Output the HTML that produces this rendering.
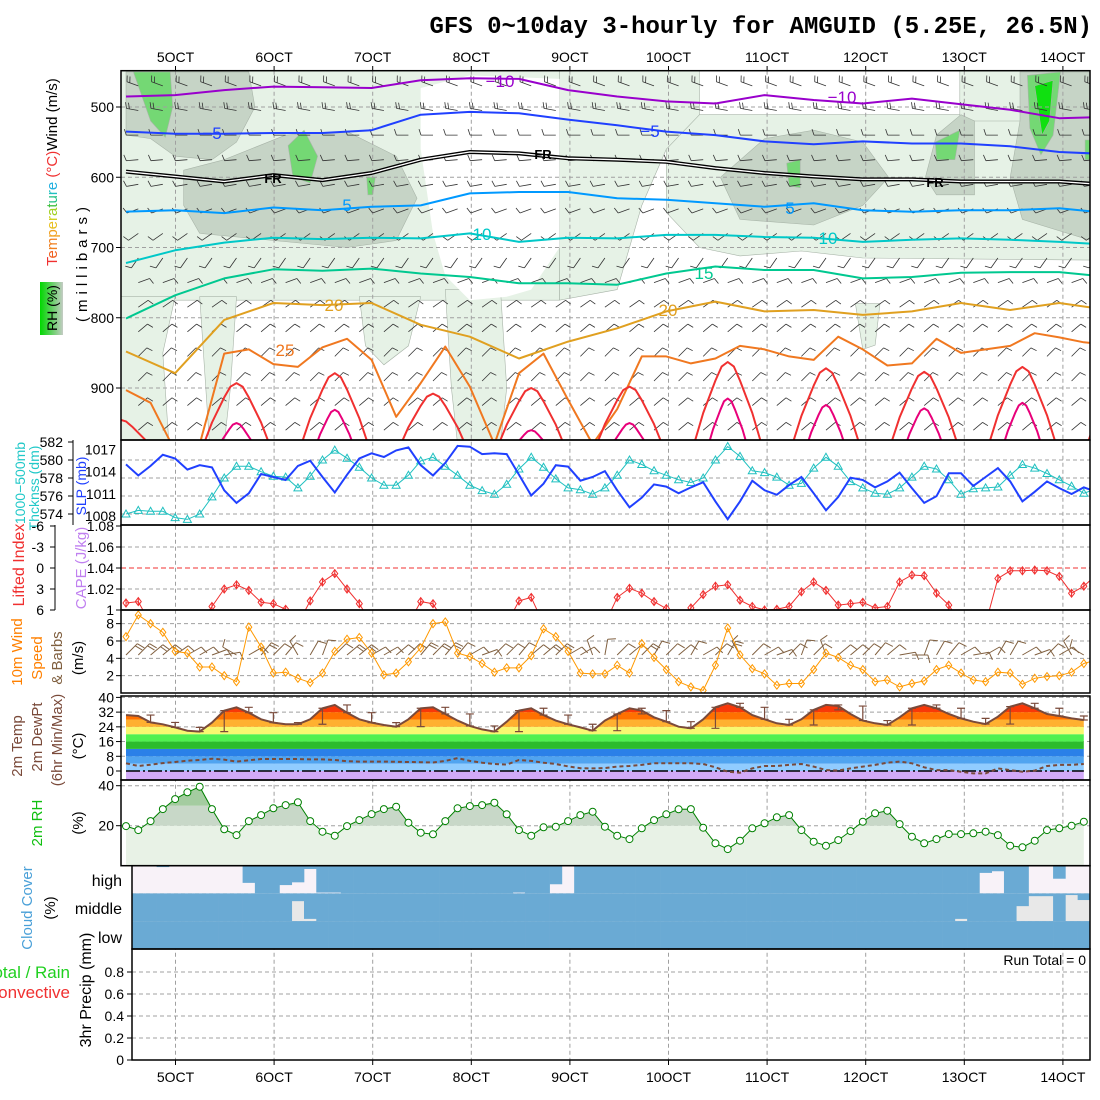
<!DOCTYPE html>
<html><head><meta charset="utf-8">
<style>
body{margin:0;background:#fff}
svg{display:block;font-family:"Liberation Sans",sans-serif}
</style></head>
<body>
<svg id="c" width="1100" height="1100" viewBox="0 0 1100 1100">
<defs>
<clipPath id="cp1"><rect x="121" y="70.7" width="969" height="369.3"/></clipPath>
<clipPath id="cp2"><rect x="121" y="440" width="969" height="85"/></clipPath>
<clipPath id="cp3"><rect x="121" y="525" width="969" height="85"/></clipPath>
<clipPath id="cp4"><rect x="121" y="610" width="969" height="83"/></clipPath>
<clipPath id="cp5"><rect x="121" y="696" width="969" height="84"/></clipPath>
<clipPath id="cp6"><rect x="121" y="780" width="969" height="85.7"/></clipPath>
<clipPath id="cp7"><rect x="132" y="865.7" width="958" height="83.3"/></clipPath>
<linearGradient id="rhgrad" x1="0" x2="1" y1="0" y2="0"><stop offset="0" stop-color="#00d800"/><stop offset="0.5" stop-color="#60d060"/><stop offset="1" stop-color="#c4ccc4"/></linearGradient>
</defs>
<rect width="1100" height="1100" fill="#fff"/>
<text x="1092" y="33" text-anchor="end" font-family="Liberation Mono, monospace" font-weight="bold" font-size="24">GFS 0~10day 3-hourly for AMGUID (5.25E, 26.5N)</text>

<g id="L1"></g>
<g id="L2"></g>
<g id="L3"></g>
<g id="L4"></g>

<g font-size="15">
<text transform="translate(57,266) rotate(-90)"><tspan fill="#f03030">T</tspan><tspan fill="#f06020">e</tspan><tspan fill="#f08020">m</tspan><tspan fill="#f0a020">p</tspan><tspan fill="#e8c020">e</tspan><tspan fill="#d0d020">r</tspan><tspan fill="#a0d020">a</tspan><tspan fill="#40c040">t</tspan><tspan fill="#20c080">u</tspan><tspan fill="#20c0c0">r</tspan><tspan fill="#20b0e0">e</tspan> <tspan fill="#f03030">(°C)</tspan><tspan fill="#000">Wind (m/s)</tspan></text>
<rect x="40" y="282" width="23" height="53" fill="url(#rhgrad)"/>
<text transform="translate(57,308) rotate(-90)" text-anchor="middle" font-size="14">RH (%)</text>
<text transform="translate(87,262) rotate(-90)" text-anchor="middle" letter-spacing="5">(millibars)</text>

<text transform="translate(25,483) rotate(-90)" text-anchor="middle" fill="#20c8c8" font-size="14">1000−500mb</text>
<text transform="translate(39,488) rotate(-90)" text-anchor="middle" fill="#20c8c8" font-size="14">Thcknss (dm)</text>
<text transform="translate(86,486) rotate(-90)" text-anchor="middle" fill="#2040ff" font-size="14">SLP (mb)</text>

<text transform="translate(24,565) rotate(-90)" text-anchor="middle" fill="#f03030" font-size="16">Lifted Index</text>
<text transform="translate(86,568) rotate(-90)" text-anchor="middle" fill="#c080f0" font-size="15">CAPE (J/kg)</text>

<text transform="translate(22,652) rotate(-90)" text-anchor="middle" fill="#ff8000" font-size="15">10m Wind</text>
<text transform="translate(42,658) rotate(-90)" text-anchor="middle" fill="#ff8000" font-size="15">Speed</text>
<text transform="translate(62,658) rotate(-90)" text-anchor="middle" fill="#806040" font-size="15">&amp; Barbs</text>
<text transform="translate(83,658) rotate(-90)" text-anchor="middle" fill="#000" font-size="15">(m/s)</text>

<text transform="translate(22,746) rotate(-90)" text-anchor="middle" fill="#7a4a3a" font-size="15">2m Temp</text>
<text transform="translate(42,737) rotate(-90)" text-anchor="middle" fill="#7a4a3a" font-size="15">2m DewPt</text>
<text transform="translate(62,740) rotate(-90)" text-anchor="middle" fill="#7a4a3a" font-size="15">(6hr Min/Max)</text>
<text transform="translate(83,746) rotate(-90)" text-anchor="middle" fill="#000" font-size="15">(°C)</text>

<text transform="translate(42,823) rotate(-90)" text-anchor="middle" fill="#10c010" font-size="15">2m RH</text>
<text transform="translate(83,823) rotate(-90)" text-anchor="middle" fill="#000" font-size="15">(%)</text>

<text transform="translate(32,908) rotate(-90)" text-anchor="middle" fill="#4aa0d8" font-size="15">Cloud Cover</text>
<text transform="translate(55,908) rotate(-90)" text-anchor="middle" fill="#000" font-size="15">(%)</text>
<text x="122" y="886" text-anchor="end" font-size="16">high</text>
<text x="122" y="914" text-anchor="end" font-size="16">middle</text>
<text x="122" y="943" text-anchor="end" font-size="16">low</text>

<text x="70" y="978" text-anchor="end" fill="#20d020" font-size="17">Total / Rain</text>
<text x="70" y="998" text-anchor="end" fill="#f03030" font-size="17">Convective</text>
<text transform="translate(91,990) rotate(-90)" text-anchor="middle" fill="#000" font-size="16">3hr Precip (mm)</text>
<text x="1086" y="965" text-anchor="end" font-size="14">Run Total = 0</text>
</g>
<g id="L5" font-size="14"></g>

<script>
// ---------- data ----------
const days = ['5OCT','6OCT','7OCT','8OCT','9OCT','10OCT','11OCT','12OCT','13OCT','14OCT'];
const pLevels = [500,600,700,800,900];
const sampleStep = 4;
const cm10 = [485,483,476,471,472,473,462,459,460,476,485,492,495,483,490,495,488,496,504,516,514];
const cm5  = [535,538,538,537,537,533,511,507,509,518,526,535,540,549,553,549,552,552,556,564,567];
const cFR  = [592,599,606,597,604,594,575,564,566,573,575,578,587,594,599,603,603,606,606,606,611];
const c5   = [649,647,651,643,647,642,640,623,621,621,630,632,637,642,637,647,649,647,647,644,651];
const c10  = [722,704,693,686,688,686,687,680,692,686,687,682,682,685,686,692,689,687,689,692,696];
const c15  = [801,768,744,731,733,730,737,742,751,751,753,737,727,732,732,744,742,736,735,735,742];
const c20  = [848,879,803,779,782,779,810,827,858,834,815,791,777,791,789,796,791,779,789,779,789];
const c25  = [903,921,990,980,851,845,866,870,842,830,860,941,893,841,898,980,879,851,917,980,930,855,855,865,858,840,845,855,860,827,845,868,865,830,850,845,840,822,828,835,838];
const c25Step = 2;
const arch30Centers = [-0.5,9,17,25,33,41,49,57,65,73,81];
const arch30Peaks = [945,893,879,908,900,898,863,872,877,870,880];
const arch35Centers = [9,17,33,41,49,57,65,73];
const arch35Peaks = [950,931,960,950,915,924,929,921];
const barbLevels = [470,505,540,575,610,645,680,715,750,785,820,855,890,925,960];
const barbLevelDir = [290,280,270,265,260,250,235,215,70,55,50,45,45,50,50];
const barbLevelFeathers = [2,2,1,1,1,1,1,1,1,1,1,1,1,1,1];

const slp = [1014.7,1013.2,1014.5,1016.0,1015.5,1014.0,1014.6,1014.3,1011.2,1009.5,1010.8,1013.4,1013.0,1012.6,1014.5,1015.2,1013.0,1010.9,1013.3,1015.5,1016.2,1015.7,1016.6,1017.0,1014.6,1013.2,1014.9,1017.2,1017.1,1016.1,1016.2,1016.1,1013.3,1010.5,1012.1,1014.6,1014.4,1012.5,1013.0,1013.8,1011.2,1008.9,1010.2,1012.0,1011.7,1010.8,1011.6,1012.3,1009.7,1007.3,1009.7,1012.5,1011.2,1010.6,1011.9,1013.0,1010.8,1008.5,1010.3,1012.9,1012.6,1011.6,1012.4,1013.6,1011.5,1009.5,1010.4,1013.5,1013.5,1011.8,1013.0,1014.2,1012.4,1009.7,1011.0,1012.4,1011.5,1010.7,1011.6,1011.0];
const thickness = [574.0,574.4,574.3,574.3,573.6,573.4,574.0,575.9,578.0,579.3,579.3,578.7,578.2,578.1,576.9,578.2,580.0,581.1,580.2,579.2,578.0,577.2,577.2,578.3,579.9,580.3,579.3,578.3,577.2,576.6,576.2,577.3,579.0,580.3,579.2,577.9,576.9,576.7,576.2,576.9,578.3,580.0,579.5,578.8,578.3,577.8,577.5,578.0,580.0,581.5,580.4,578.8,578.6,578.1,577.2,577.4,579.1,580.3,579.3,577.6,576.9,576.3,576.2,576.9,578.1,579.3,579.0,577.8,576.2,576.8,576.9,577.0,578.3,579.5,579.1,578.5,577.8,577.1,576.3,576.8];
const liftedIndex = [5.0,4.8,8,8,8,8,8,5.5,3.0,2.4,3.2,4.9,5.1,5.9,8,4.7,2.0,0.8,3.0,5.1,8,8,8,8,4.8,5.1,8,8,8,8,8,8,4.7,4.2,8,8,8,8,8,8,4.2,2.9,3.6,4.8,5.8,8,5.7,3.8,2.6,2.4,4.6,5.5,6.0,5.9,5.5,3.4,2.0,3.2,5.3,5.1,4.9,5.7,5.5,2.0,1.0,1.1,3.6,5.3,8,8,8,1.5,0.4,0.4,0.3,0.4,1.2,3.6,2.6,1.0];
const windSpeed = [6.5,9.0,8.0,7.0,4.8,4.6,3.0,3.0,2.0,1.3,7.6,5.3,2.3,2.4,1.7,1.2,2.3,4.8,6.2,6.4,4.6,2.1,2.3,3.6,5.2,8.0,8.2,4.6,4.2,3.4,2.4,2.9,2.9,4.3,7.4,6.5,4.8,2.3,2.2,2.2,3.2,2.3,5.7,4.1,2.7,1.3,0.7,0.3,3.2,7.5,4.4,2.8,2.2,0.9,1.1,1.1,2.7,4.6,4.1,3.2,2.7,1.3,1.5,0.7,1.1,1.4,2.7,3.2,2.3,1.5,1.3,2.4,2.3,1.0,1.7,1.9,2.0,2.4,3.4,3.8];
const windDir = [45,45,50,50,55,60,60,70,80,300,60,40,45,40,330,30,20,45,50,50,60,60,50,45,40,45,40,40,60,70,45,45,40,50,50,45,60,60,340,10,45,50,45,30,45,50,30,60,45,30,330,45,60,70,45,20,45,340,50,50,45,40,50,80,90,20,30,40,60,80,60,30,30,60,70,45,60,330,300,45];
const temp2m = [30.4,29.9,26.4,25.4,23.7,21.9,21.4,26.3,32.8,34.6,31.7,28.1,26.3,25.4,25.4,28.1,34.1,35.9,31.7,28.1,26.3,25.0,24.1,28.1,34.1,34.6,31.0,27.4,24.5,22.6,21.4,26.8,32.8,34.1,30.4,27.4,25.4,23.7,21.9,27.4,31.0,34.1,32.8,29.2,26.8,24.1,23.2,28.1,34.6,36.8,34.6,30.4,28.1,25.9,25.0,28.1,33.2,35.9,35.3,31.0,27.4,25.9,25.0,29.2,34.1,35.9,34.1,31.0,28.6,26.8,25.5,29.5,35.0,36.8,34.1,31.0,29.9,28.6,27.7];
const dew2m = [4.2,2.7,3.4,4.3,4.9,5.6,6.0,6.7,6.2,5.1,5.8,6.5,6.5,6.5,6.5,6.3,6.3,6.0,5.3,5.1,5.1,5.1,5.0,4.9,4.8,4.6,5.5,7.0,5.5,4.5,3.8,3.5,6.0,5.5,4.5,3.8,2.5,1.5,1.4,1.6,2.4,2.7,3.3,4.2,4.2,4.2,4.2,3.8,2.0,-0.4,-0.9,1.4,2.7,2.7,3.3,3.8,2.4,0.5,0.2,1.4,2.4,3.3,4.5,5.1,4.2,2.0,0.5,0.5,-0.4,-1.3,-1.3,1.4,0.5,-0.4,0.2,2.7,3.3,3.3,3.8];
const tempBandEdges = [-40,0,4,8,12,16,20,24,28,32,36,60];
const tempBandColors = ['#d2aaf8','#90ccff','#50a4f0','#2a80e8','#2cbc2c','#50f050','#f8f870','#ffb030','#ff7000','#f83808','#d81800'];
const rh2m = [19.8,17.8,22.3,28.3,33.3,36.7,39.5,28.3,18.2,15.3,22.3,25.3,28.7,30.3,31.7,22.3,17.0,15.0,19.8,22.8,25.8,28.3,29.5,21.5,16.5,15.7,22.3,28.7,29.8,30.3,31.5,25.7,17.8,15.0,19.2,19.5,22.3,25.3,27.0,19.5,15.0,13.3,18.7,22.8,25.7,28.2,28.3,19.0,11.2,8.3,12.5,18.7,21.2,24.2,25.3,17.8,12.0,10.0,12.8,17.3,22.0,26.2,27.5,20.8,14.5,11.2,13.3,15.8,15.8,16.2,17.0,15.3,10.0,9.2,12.5,17.8,18.7,20.0,22.0];
const rhBandEdges = [0,20,30,100];
const rhBandColors = ['#e8f2e6','#c8d8c8','#a4cca0'];
const cloudHigh = [0,0,0,5,0,0,0,0,0,0,62,100,100,70,60,12,97,97,100,100,100,100,100,100,100,100,100,100,100,100,100,100,97,100,100,67,0,100,100,100,100,100,100,100,100,100,100,100,100,100,100,100,100,100,100,100,100,100,100,100,100,100,100,100,100,100,100,100,100,100,26,20,100,100,0,0,47,0,0,0];
const cloudMid = [100,100,100,100,100,100,100,100,100,100,100,100,100,100,28,92,100,100,100,100,100,100,100,100,100,100,100,100,100,100,100,100,100,100,100,100,100,100,100,100,100,100,100,100,100,100,100,100,100,100,100,100,100,100,100,100,100,100,100,100,100,100,100,100,100,100,100,100,92,100,100,100,100,46,10,10,100,6,24,24];
const cloudLow = new Array(80).fill(100);
const precipTicks = [0,0.2,0.4,0.6,0.8];
const thkTicks = [574,576,578,580,582];
const slpTicks = [1008,1011,1014,1017];
const liTicks = [-6,-3,0,3,6];
const capeTicks = ['1.08','1.06','1.04','1.02','1'];
const spdTicks = [2,4,6,8];
const tempTicks = [0,8,16,24,32,40];
const rhTicks = [20,40];
const rhPale = [
 [[-1,445],[35.3,445],[35.3,775],[-1,775]],
 [[-1,770],[4,770],[3,850],[3.5,980],[-1,980]],
 [[6,770],[9,770],[8.5,900],[8,980],[6.8,980],[6.5,900]],
 [[19,770],[24,770],[23,840],[21,867],[19.5,840]],
 [[26,760],[30.5,760],[31,900],[30.5,980],[27,980],[26.5,900]],
 [[35.3,445],[46.7,445],[46.7,520],[44,560],[42,640],[41,700],[40,760],[35.3,775]],
 [[44,560],[46.7,511],[78.6,511],[78.6,718],[60,715],[55,705],[50,712],[46.7,700],[44,650]],
 [[67.9,445],[78.6,445],[78.6,520],[67.9,520]],
 [[59.4,780],[61.4,780],[61,839],[60,845]]
];
const rhWhite = [[[24,473],[28,455],[35.3,460],[35.3,700],[33,760],[31,770],[28,775],[26,740],[25,680],[24,560]]];
const rhGray = [
 [[0,450],[10,450],[10.5,500],[9,550],[7,575],[4,570],[2,545],[0,540]],
 [[4.7,590],[8,575],[13,540],[18,535],[22,570],[23.7,630],[22,690],[18,700],[12,690],[6,680],[4.7,640]],
 [[48.4,600],[52,545],[56,533],[60,550],[62.1,600],[60,640],[56,668],[50,660]],
 [[65.1,600],[66,540],[68,511],[69.1,520],[69.1,625],[66,625]],
 [[72.8,450],[78.6,450],[78.6,690],[73,660],[72,600],[72.8,520]]
];
const rhGreen = [
 [[0.6,450],[3.6,450],[3.8,500],[3.2,543],[2,520]],
 [[13.2,555],[14.5,533],[15.6,570],[15,608],[13.6,600]],
 [[19.6,600],[20.3,600],[20.1,625],[19.7,625]],
 [[53.8,580],[54.9,575],[54.9,615],[54,612]],
 [[65.9,550],[67.9,533],[67.5,575],[66,575]],
 [[73.4,455],[76.1,450],[75.5,540],[74.5,568],[73.6,530]],
 [[78.1,547],[78.6,547],[78.6,575],[78.1,575]]
];
const rhBright = [[[74,470],[75.5,462],[75.2,520],[74.6,540]]];

// ---------- axes ----------
const svg = document.getElementById('c');
const NS = 'http://www.w3.org/2000/svg';
const L1 = document.getElementById('L1'), L2 = document.getElementById('L2'), L3 = document.getElementById('L3'), L4 = document.getElementById('L4'), L5 = document.getElementById('L5');
const X = i => 126 + 12.28 * i;
const dayX = d => 175.5 + 98.6 * d;
const yP = p => 107 + (p - 500) * 0.7025;
const yThk = v => 514 - (v - 574) * 9;
const ySlp = v => 514 - (v - 1008) * 7.4;
const yLI = v => 568 + v * 7;
const ySpd = v => 693 - v * 8.67;
const yT = v => 771 - v * 1.84;
const yRH = v => 865.7 - v * 2;
const yPr = v => 1060 - v * 110;
function mk(tag, attrs, parent) {
  const e = document.createElementNS(NS, tag);
  for (const k in attrs) e.setAttribute(k, attrs[k]);
  parent.appendChild(e);
  return e;
}
function pd(pts) { return pts.map((p, k) => (k ? 'L' : 'M') + p[0].toFixed(1) + ',' + p[1].toFixed(1)).join(''); }

// ---------- RH shading ----------
const gShade = mk('g', {'clip-path': 'url(#cp1)'}, L1);


function blobs(list, fill, name) {
  list.forEach(poly => {
    const e = mk('path', {d: pd(poly.map(q => [X(q[0]), yP(q[1])])) + 'Z', fill: fill, stroke: fill === '#ffffff' ? 'none' : '#a8b4a8', 'stroke-width': 0.6}, gShade);
    
    
  });
}
blobs(rhPale, '#e6f2e6', 'rh-region-moist');
blobs(rhWhite, '#ffffff', 'rh-region-dry');
blobs(rhGray, '#c6d4c6', 'rh-region-humid');
blobs(rhGreen, '#74d874', 'rh-region-wet');
blobs(rhBright, '#10e010', 'rh-region-saturated');

// ---------- grid ----------
function gl(x1, y1, x2, y2, name, color, dash) {
  const e = mk('line', {x1: x1, y1: y1, x2: x2, y2: y2, stroke: color || '#a0a0a0', 'stroke-width': 1, 'stroke-dasharray': dash || '4,3'}, L2);
  
  
  return e;
}
days.forEach((d, k) => {
  const x = dayX(k);
  gl(x, 70.7, x, 1060, 'day-gridline');
  const t1 = mk('text', {x: x, y: 62, 'text-anchor': 'middle'}, L5);
  t1.textContent = d;
  
  
  const t2 = mk('text', {x: x, y: 1082, 'text-anchor': 'middle'}, L5);
  t2.textContent = d;
  
  
  const tk = mk('line', {x1: x, y1: 66, x2: x, y2: 70.7, stroke: '#000'}, L4);
  
  
  const tk2 = mk('line', {x1: x, y1: 1060, x2: x, y2: 1065, stroke: '#000'}, L4);
  
  
});
function ylab(txt, x, y, name, anchor) {
  const t = mk('text', {x: x, y: y + 5, 'text-anchor': anchor || 'end'}, L5);
  t.textContent = txt;
  
  
}
function ytick(x, y, name) {
  const e = mk('line', {x1: x - 5, y1: y, x2: x, y2: y, stroke: '#000'}, L4);
  
  
}
pLevels.forEach(p => { gl(121, yP(p), 1090, yP(p), 'pressure-gridline'); ylab(String(p), 114, yP(p), 'pressure-tick-label'); ytick(121, yP(p), 'pressure-tick'); });
thkTicks.forEach(v => { if (v < 582) gl(121, yThk(v), 1090, yThk(v), 'thickness-gridline'); ylab(String(v), 63, yThk(v), 'thickness-tick-label'); ytick(73, yThk(v), 'thickness-tick'); });
slpTicks.forEach(v => { ylab(String(v), 116, ySlp(v) + 2, 'slp-tick-label'); });
liTicks.forEach((v, k) => {
  if (v === -3 || v === 3) gl(121, yLI(v), 1090, yLI(v), 'li-gridline');
  if (v === 0) gl(121, yLI(v), 1090, yLI(v), 'li-zero-line', '#f03030', '5,3');
  ylab(String(v), 44, yLI(v), 'li-tick-label'); ytick(55, yLI(v), 'li-tick');
  ylab(capeTicks[k], 114, yLI(v), 'cape-tick-label'); ytick(121, yLI(v), 'cape-tick');
});
spdTicks.forEach(v => { gl(121, ySpd(v), 1090, ySpd(v), 'speed-gridline'); ylab(String(v), 114, ySpd(v), 'speed-tick-label'); ytick(121, ySpd(v), 'speed-tick'); });
tempTicks.forEach(v => { if (v > 0) gl(121, yT(v), 1090, yT(v), 'temp-gridline'); ylab(String(v), 114, yT(v), 'temp-tick-label'); ytick(121, yT(v), 'temp-tick'); });
rhTicks.forEach(v => { gl(121, yRH(v), 1090, yRH(v), 'rh-gridline'); ylab(String(v), 114, yRH(v), 'rh-tick-label'); ytick(121, yRH(v), 'rh-tick'); });
precipTicks.forEach(v => { if (v > 0) gl(132, yPr(v), 1090, yPr(v), 'precip-gridline'); ylab(String(v), 124, yPr(v), 'precip-tick-label'); ytick(132, yPr(v), 'precip-tick'); });

// ---------- top panel ----------
const gTop = mk('g', {'clip-path': 'url(#cp1)'}, L3);


for (let i = 1; i < 80; i += 2) {
  barbLevels.forEach((p, k) => {
    const dir = barbLevelDir[k] * Math.PI / 180;
    const x0 = X(i), y0 = yP(p);
    const dx = Math.sin(dir), dy = -Math.cos(dir);
    const x1 = x0 + 12 * dx, y1 = y0 + 12 * dy;
    let d = 'M' + x0.toFixed(1) + ',' + y0.toFixed(1) + 'L' + x1.toFixed(1) + ',' + y1.toFixed(1);
    for (let f = 0; f < barbLevelFeathers[k]; f++) {
      const bx = x1 - f * 3 * dx, by = y1 - f * 3 * dy;
      d += 'M' + bx.toFixed(1) + ',' + by.toFixed(1) + 'L' + (bx + 6 * (-dy) + 2 * dx).toFixed(1) + ',' + (by + 6 * dx + 2 * dy).toFixed(1);
    }
    const e = mk('path', {d: d, stroke: '#333', 'stroke-width': 0.8, fill: 'none'}, gTop);
    
    
  });
}
function contour(vals, step, color, width, name) {
  const pts = vals.map((p, k) => [X(k * step), yP(p)]);
  const e = mk('path', {d: pd(pts), stroke: color, 'stroke-width': width, fill: 'none', 'stroke-linejoin': 'round'}, gTop);
  
  
  return e;
}
contour(cm10, sampleStep, '#9900cc', 2, 'contour-minus10');
contour(cm5, sampleStep, '#2040ff', 2, 'contour-minus5');
contour(cFR, sampleStep, '#000', 4, 'contour-freezing-outer');
contour(cFR, sampleStep, '#fff', 1.3, 'contour-freezing-inner');
contour(c5, sampleStep, '#0099ff', 2, 'contour-5');
contour(c10, sampleStep, '#00c8c8', 2, 'contour-10');
contour(c15, sampleStep, '#00c890', 2, 'contour-15');
contour(c20, sampleStep, '#e0a020', 2, 'contour-20');
contour(c25, c25Step, '#f07820', 2, 'contour-25');
const archOff = [-3, -2, -1, -0.5, 0, 0.5, 1, 2, 3];
const archFrac = [1, 0.55, 0.2, 0.05, 0, 0.05, 0.2, 0.55, 1];
function arches(centers, peaks, scale, color, name) {
  centers.forEach((c, k) => {
    const pts = archOff.map((o, m) => [X(c + o * scale), yP(peaks[k] + (995 - peaks[k]) * archFrac[m])]);
    const e = mk('path', {d: pd(pts), stroke: color, 'stroke-width': 2, fill: 'none', 'stroke-linejoin': 'round'}, gTop);
    
    
  });
}
arches(arch30Centers, arch30Peaks, 1, '#f03030', 'contour-30');
arches(arch35Centers, arch35Peaks, 0.6, '#e8007a', 'contour-35');
[['−10', 500, 87, '#9900cc'], ['−10', 842, 103, '#9900cc'], ['−5', 212, 139, '#2040ff'], ['−5', 650, 137, '#2040ff'],
 ['FR', 273, 183, '#000'], ['FR', 543, 159, '#000'], ['FR', 935, 187, '#000'], ['5', 347, 211, '#0099ff'], ['5', 790, 214, '#0099ff'],
 ['10', 482, 240, '#00c8c8'], ['10', 828, 244, '#00c8c8'], ['15', 704, 279, '#00c890'], ['20', 334, 311, '#e0a020'], ['20', 668, 316, '#e0a020'], ['25', 285, 356, '#f07820']
].forEach(l => {
  const t = mk('text', {x: l[1], y: l[2], 'text-anchor': 'middle', fill: l[3], 'font-size': l[0] === 'FR' ? 13 : 17, 'font-weight': l[0] === 'FR' ? 'bold' : 'normal'}, gTop);
  t.textContent = l[0];
  
  
});

// ---------- panel 2 ----------
const g2 = mk('g', {'clip-path': 'url(#cp2)'}, L3);


const thkLine = mk('path', {d: pd(thickness.map((v, i) => [X(i), yThk(v)])), stroke: '#20c0c0', 'stroke-width': 1, fill: 'none'}, g2);


thickness.forEach((v, i) => {
  const x = X(i), y = yThk(v);
  const m = mk('path', {d: 'M' + x + ',' + (y - 4) + 'L' + (x + 4) + ',' + (y + 3) + 'L' + (x - 4) + ',' + (y + 3) + 'Z', stroke: '#20c0c0', fill: 'none', 'stroke-width': 1}, g2);
  
  
});
const slpLine = mk('path', {d: pd(slp.map((v, i) => [X(i), ySlp(v)])), stroke: '#2040ff', 'stroke-width': 2, fill: 'none'}, g2);



// ---------- panel 3 ----------
const g3 = mk('g', {'clip-path': 'url(#cp3)'}, L3);


const liLine = mk('path', {d: pd(liftedIndex.map((v, i) => [X(i), yLI(v)])), stroke: '#f03030', 'stroke-width': 1, fill: 'none'}, g3);


liftedIndex.forEach((v, i) => {
  if (v > 6) return;
  const x = X(i), y = yLI(v);
  const m = mk('path', {d: 'M' + x + ',' + (y - 4) + 'L' + (x + 3) + ',' + y + 'L' + x + ',' + (y + 4) + 'L' + (x - 3) + ',' + y + 'ZM' + x + ',' + (y - 4) + 'L' + x + ',' + (y + 4), stroke: '#f03030', fill: 'none', 'stroke-width': 1}, g3);
  
  
});

// ---------- panel 4 ----------
const g4 = mk('g', {'clip-path': 'url(#cp4)'}, L3);


windDir.forEach((dv, i) => {
  const dir = dv * Math.PI / 180;
  const x0 = X(i), y0 = 655;
  const dx = Math.sin(dir), dy = -Math.cos(dir);
  const x1 = x0 + 16 * dx, y1 = y0 + 16 * dy;
  const nf = windSpeed[i] > 5 ? 2 : 1;
  let d = 'M' + x0.toFixed(1) + ',' + y0 + 'L' + x1.toFixed(1) + ',' + y1.toFixed(1);
  for (let f = 0; f < nf; f++) {
    const bx = x1 - f * 3 * dx, by = y1 - f * 3 * dy;
    d += 'M' + bx.toFixed(1) + ',' + by.toFixed(1) + 'L' + (bx + 8 * (-dy) + 2 * dx).toFixed(1) + ',' + (by + 8 * dx + 2 * dy).toFixed(1);
  }
  const e = mk('path', {d: d, stroke: '#806040', 'stroke-width': 1, fill: 'none'}, g4);
  
  
});
const spdLine = mk('path', {d: pd(windSpeed.map((v, i) => [X(i), ySpd(v)])), stroke: '#ff9900', 'stroke-width': 1, fill: 'none'}, g4);


windSpeed.forEach((v, i) => {
  const x = X(i), y = ySpd(v);
  const m = mk('path', {d: 'M' + x + ',' + (y - 4) + 'L' + (x + 3) + ',' + y + 'L' + x + ',' + (y + 4) + 'L' + (x - 3) + ',' + y + 'Z', stroke: '#ff9900', fill: 'none', 'stroke-width': 1}, g4);
  
  
});

// ---------- panel 5 ----------
const g5 = mk('g', {'clip-path': 'url(#cp5)'}, L3);


const tClip = mk('clipPath', {id: 'tclip'}, svg.querySelector('defs'));
const tcp = mk('path', {d: pd(temp2m.map((v, i) => [X(i), yT(v)]).concat([[X(temp2m.length - 1), 780], [X(0), 780]])) + 'Z'}, tClip);


const gBands = mk('g', {'clip-path': 'url(#tclip)'}, g5);


tempBandColors.forEach((c, k) => {
  const yTop = yT(tempBandEdges[k + 1]), yBot = Math.min(780, yT(tempBandEdges[k]));
  const r = mk('rect', {x: 121, y: yTop, width: 969, height: Math.max(0, yBot - yTop), fill: c}, gBands);
  
  
});
const zl = mk('line', {x1: 126, y1: yT(0), x2: X(temp2m.length - 1), y2: yT(0), stroke: '#000', 'stroke-width': 1.5, 'stroke-dasharray': '14,3,2,3'}, g5);


for (let i = 2; i < temp2m.length; i += 2) {
  const win = temp2m.slice(i - 2, i + 1);
  const lo = Math.min.apply(null, win), hi = Math.max.apply(null, win);
  const x = X(i);
  const e = mk('path', {d: 'M' + x + ',' + yT(hi) + 'L' + x + ',' + yT(lo) + 'M' + (x - 4) + ',' + yT(hi) + 'L' + (x + 4) + ',' + yT(hi) + 'M' + (x - 4) + ',' + yT(lo) + 'L' + (x + 4) + ',' + yT(lo), stroke: '#7a4a3a', 'stroke-width': 1.2, fill: 'none'}, g5);
  
  
}
const tLine = mk('path', {d: pd(temp2m.map((v, i) => [X(i), yT(v)])), stroke: '#7a4a3a', 'stroke-width': 2, fill: 'none'}, g5);


const dLine = mk('path', {d: pd(dew2m.map((v, i) => [X(i), yT(v)])), stroke: '#7a4a3a', 'stroke-width': 2, 'stroke-dasharray': '4,3', fill: 'none'}, g5);



// ---------- panel 6 ----------
const g6 = mk('g', {'clip-path': 'url(#cp6)'}, L3);


const rClip = mk('clipPath', {id: 'rclip'}, svg.querySelector('defs'));
const rcp = mk('path', {d: pd(rh2m.map((v, i) => [X(i), yRH(v)]).concat([[X(rh2m.length - 1), 866], [X(0), 866]])) + 'Z'}, rClip);


const gRB = mk('g', {'clip-path': 'url(#rclip)'}, g6);


rhBandColors.forEach((c, k) => {
  const yTop = yRH(rhBandEdges[k + 1]), yBot = yRH(rhBandEdges[k]);
  const r = mk('rect', {x: 121, y: yTop, width: 969, height: yBot - yTop, fill: c}, gRB);
  
  
});
const rhLine = mk('path', {d: pd(rh2m.map((v, i) => [X(i), yRH(v)])), stroke: '#008000', 'stroke-width': 1, fill: 'none'}, g6);


rh2m.forEach((v, i) => {
  const c = mk('circle', {cx: X(i), cy: yRH(v), r: 3.5, fill: '#fff', stroke: '#008000', 'stroke-width': 1}, g6);
  
  
});

// ---------- panel 7 ----------
const g7 = mk('g', {'clip-path': 'url(#cp7)'}, L3);


const rowTop = [865.7, 893.4, 921.1];
const rowH = 27.7;
const rowBg = ['#f8f2f8', '#e8e8e8', '#e8e8e8'];
[cloudHigh, cloudMid, cloudLow].forEach((arr, r) => {
  const bg = mk('rect', {x: 132, y: rowTop[r], width: 958, height: rowH, fill: rowBg[r]}, g7);
  
  
  arr.forEach((v, i) => {
    const b = mk('rect', {x: X(i) - 6.2, y: rowTop[r], width: 12.6, height: rowH * v / 100, fill: '#6aaad4'}, g7);
    
    
  });
});
rowTop.slice(1).forEach(y => gl(132, y, 1090, y, 'cloud-row-gridline', '#909090'));

// ---------- frames ----------
[[121, 70.7, 1090, 440], [121, 440, 1090, 525], [121, 525, 1090, 610], [121, 610, 1090, 693], [121, 696, 1090, 780], [121, 780, 1090, 865.7], [132, 865.7, 1090, 949], [132, 949, 1090, 1060]].forEach(f => {
  const r = mk('rect', {x: f[0], y: f[1], width: f[2] - f[0], height: f[3] - f[1], fill: 'none', stroke: '#000', 'stroke-width': 1.5}, L4);
  
  
});
const ax2 = mk('line', {x1: 73, y1: 440, x2: 73, y2: 525, stroke: '#000', 'stroke-width': 1}, L4);


const ax3 = mk('line', {x1: 55, y1: 525, x2: 55, y2: 610, stroke: '#000', 'stroke-width': 1}, L4);


</script>
</body></html>
